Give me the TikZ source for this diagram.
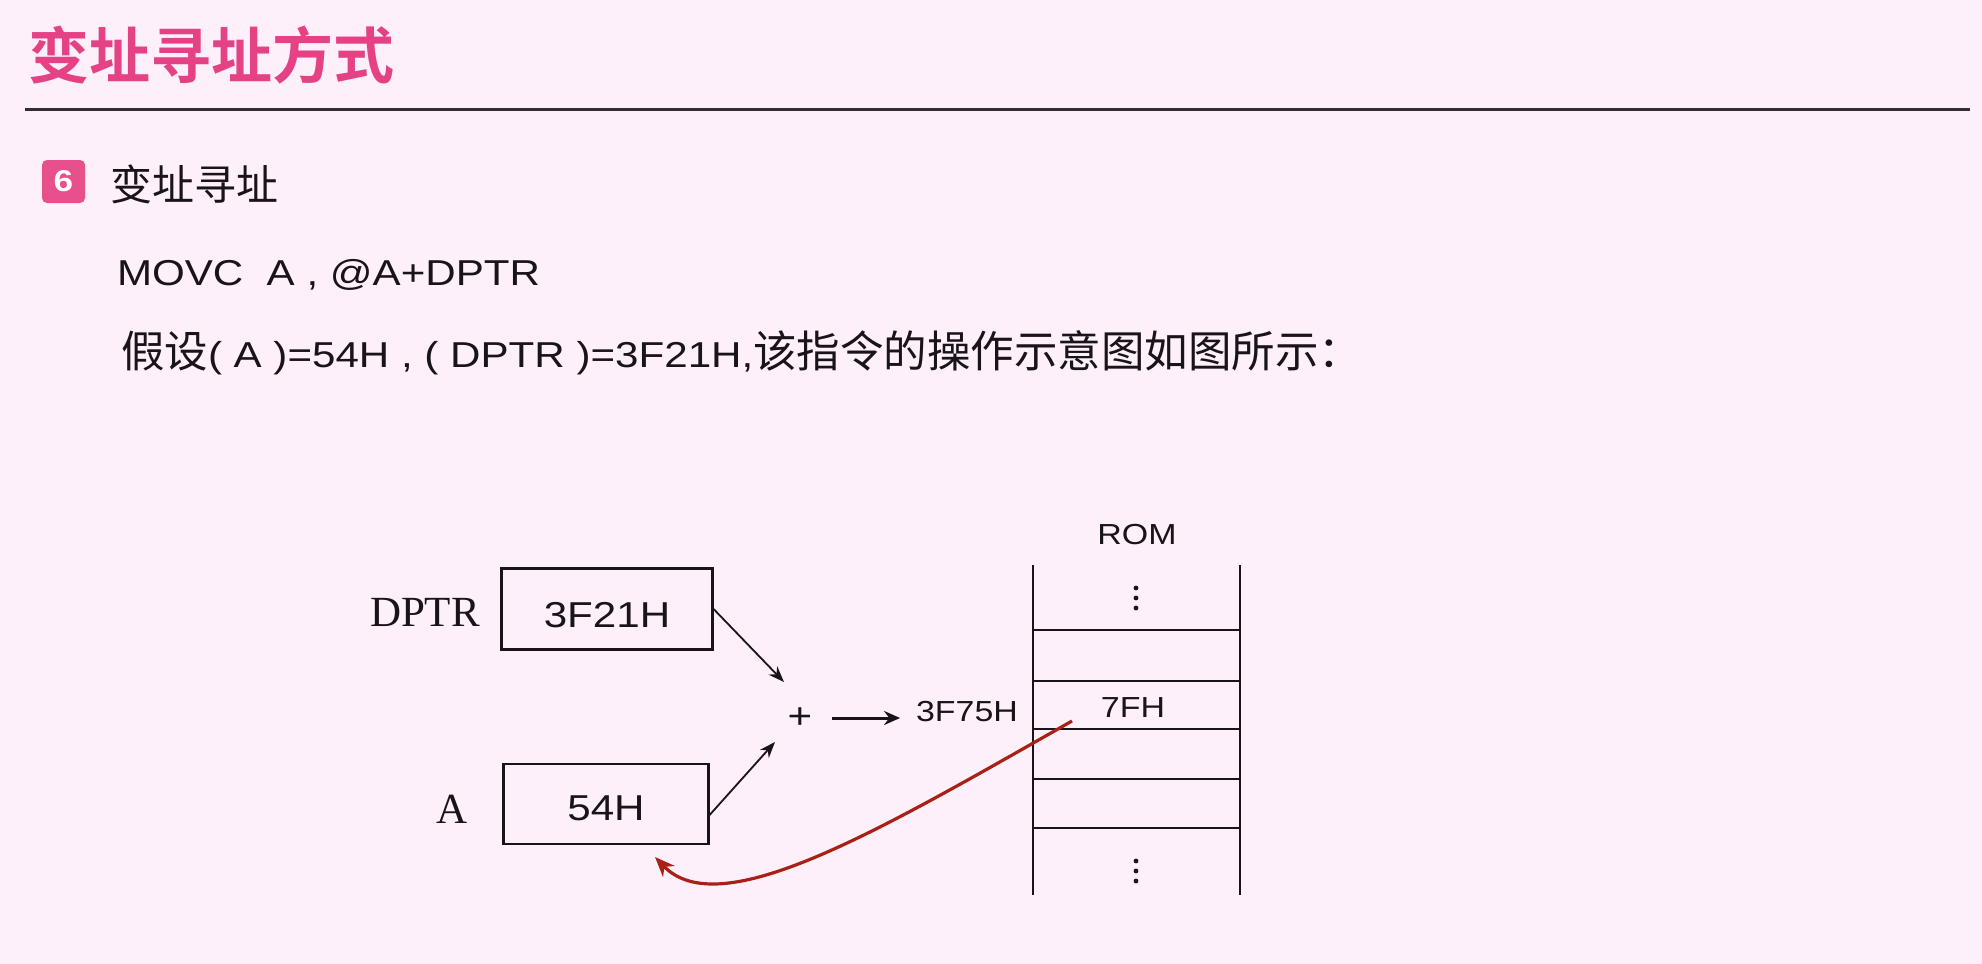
\documentclass[tikz,border=0pt]{standalone}
\usepackage{fontspec}
\usetikzlibrary{arrows.meta,calc}
\setmainfont{Liberation Sans}
\newfontfamily\lat{Liberation Sans}[FakeStretch=1.17]
\newfontfamily\serf{Liberation Serif}
\newfontfamily\cjk{Noto Sans CJK SC}[BoldFont={Noto Sans CJK SC Bold}]
\definecolor{bg}{RGB}{253,240,250}
\definecolor{pinkt}{RGB}{228,66,132}
\definecolor{badgec}{RGB}{232,80,140}
\definecolor{darkred}{RGB}{168,33,20}
\definecolor{rulec}{RGB}{50,45,50}
\definecolor{ink}{RGB}{25,20,25}
\begin{document}
\begin{tikzpicture}[x=0.5pt,y=-0.5pt,
  txt/.style={inner sep=0pt, outer sep=0pt, text=ink},
  regbox/.style={draw=ink, line width=1.1pt, inner sep=0pt},
  romline/.style={draw=ink, line width=1.2pt},
  arr/.style={draw=ink, line width=0.9pt, -{Stealth[length=8pt,width=6pt]}},
  bigarr/.style={draw=ink, line width=1.5pt, -{Stealth[length=8pt,width=7pt]}},
  back/.style={draw=darkred, line width=1.6pt, -{Stealth[length=10pt,width=8pt]}},
  big/.style={font=\lat\fontsize{18}{22}\selectfont},
  small/.style={font=\lat\fontsize{14.5}{18}\selectfont},
  serifl/.style={font=\serf\fontsize{21.5}{26}\selectfont}]
\fill[bg] (0,0) rectangle (1982,964);
\useasboundingbox (0,0) rectangle (1982,964);

% header
\node[txt, anchor=base west, text=pinkt] (title) at (28,78)
  {\cjk\bfseries\fontsize{30.5}{36}\selectfont 变址寻址方式};
\draw[rulec, line width=1.5pt] (25,109) -- (1970,109);

\node[fill=badgec, rounded corners=2.5pt, minimum width=21.5pt, minimum height=21.5pt, inner sep=0pt, text=white] (badge) at (63.5,181.5)
  {\lat\bfseries\fontsize{15}{18}\selectfont 6};
\node[txt, anchor=base west] (sub) at (110,200) {\cjk\fontsize{21}{25}\selectfont 变址寻址};
\node[txt, anchor=base west, big] (movc) at (117,285) {MOVC\ \ A , @A+DPTR};
\node[txt, anchor=base west, big] (assume) at (121,367)
  {{\cjk\fontsize{21.75}{26}\selectfont 假设}( A )=54H , ( DPTR )=3F21H,{\cjk\fontsize{21.75}{26}\selectfont 该指令的操作示意图如图所示：}};

% registers
\node[regbox, minimum width=105.5pt, minimum height=40.5pt] (dbox) at (607,609) {};
\node[txt, big] (dval) at (607,615) {3F21H};
\node[txt, serifl] (dlab) at (425,612) {DPTR};
\node[regbox, minimum width=102.5pt, minimum height=40pt] (abox) at (606,804) {};
\node[txt, big] (aval) at (606,808) {54H};
\node[txt, serifl] (alab) at (452,809) {A};

% adder
\node[txt, big] (plus) at (800,718) {+};
\coordinate (pin1) at (784,682);
\coordinate (pin2) at (775,742);
\draw[arr] (dbox.east) -- (pin1);
\draw[arr] ($(abox.east)+(0,11)$) -- (pin2);
\node[txt, small] (addr) at (967,712) {3F75H};
\draw[bigarr, shorten <=10pt, shorten >=8pt] (plus.east) -- (addr.west |- plus.east);

% ROM
\node[txt, small] (romlab) at (1137,535) {ROM};
\draw[romline] (1033,565) -- (1033,895);
\draw[romline] (1240,565) -- (1240,895);
\foreach \yy in {630,681,729,779,828} \draw[romline] (1033,\yy) -- (1240,\yy);
\foreach \yy in {588,598,608,861,871,881} \fill[ink] (1136,\yy) circle (1.2pt);
\node[txt, small] (val) at (1133,708) {7FH};

% result back to A
\coordinate (src) at (1072,721);
\coordinate (dst) at (655,857);
\draw[back] (src) .. controls (880,830) and (720,925) .. (dst);
\end{tikzpicture}
\end{document}
